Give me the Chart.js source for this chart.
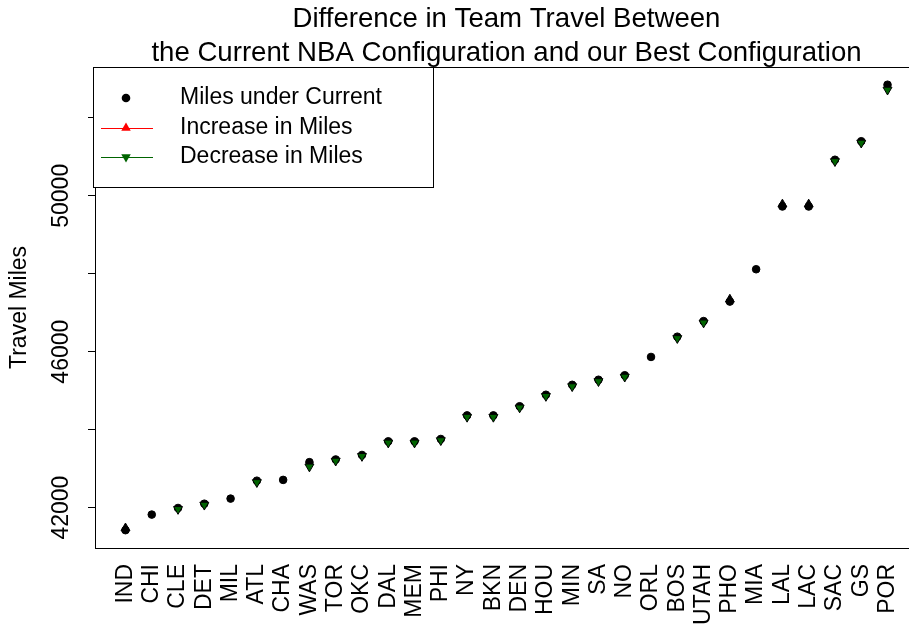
<!DOCTYPE html>
<html>
<head>
<meta charset="utf-8">
<title>Team Travel</title>
<script src="https://cdn.jsdelivr.net/npm/chart.js@4"></script>
<style>
  html, body { margin: 0; padding: 0; background: #fff; overflow: hidden; }
  #wrap { width: 1020px; height: 625px; }
</style>
</head>
<body>
<div id="wrap"><canvas id="travelChart" width="1020" height="625"></canvas></div>
<script>
// --- data ---
const teams = ['IND', 'CHI', 'CLE', 'DET', 'MIL', 'ATL', 'CHA', 'WAS', 'TOR', 'OKC',
  'DAL', 'MEM', 'PHI', 'NY', 'BKN', 'DEN', 'HOU', 'MIN', 'SA', 'NO',
  'ORL', 'BOS', 'UTAH', 'PHO', 'MIA', 'LAL', 'LAC', 'SAC', 'GS', 'POR'];

const milesCurrent = [41420, 41820, 41990, 42100, 42230, 42690, 42710, 43165, 43235, 43350,
  43700, 43700, 43760, 44365, 44365, 44600, 44895, 45150, 45280, 45395,
  45865, 46385, 46785, 47285, 48115, 49725, 49725, 50925, 51400, 52850];

// best configuration, split by direction of change (null = no marker)
const milesIncrease = [41470, null, null, null, null, null, null, null, null, null,
  null, null, null, null, null, null, null, null, null, null,
  null, null, null, 47340, null, 49780, 49780, null, null, null];

const milesDecrease = [null, null, 41960, 42070, null, 42650, null, 43050, 43200, 43320,
  43665, 43665, 43725, 44325, 44325, 44565, 44860, 45110, 45240, 45355,
  null, 46345, 46745, null, null, null, null, 50885, 51360, 52720];

const seriesNames = ['Miles under Current', 'Increase in Miles', 'Decrease in Miles'];
const titleLines = ['Difference in Team Travel Between', 'the Current NBA Configuration and our Best Configuration'];
const yTickValues = [42000, 44000, 46000, 48000, 50000, 52000];
const yTickLabels = ['42000', '', '46000', '', '50000', ''];

Chart.defaults.font.family = "'Liberation Sans', Arial, sans-serif";
Chart.defaults.color = '#000';

const toPoints = arr => arr.map((v, i) => ({ x: i + 1, y: v })).filter(p => p.y !== null);

// R-style 4% axis padding
const allValues = [...milesCurrent, ...milesIncrease, ...milesDecrease].filter(v => v !== null);
const yLo = Math.min(...allValues), yHi = Math.max(...allValues);
const yPad = (yHi - yLo) * 0.04;
const xPad = (teams.length - 1) * 0.04;

const RED = '#FF0000';
const GREEN = '#006400';

function triangle(ctx, x, y, r, down) {
  const s = down ? -1 : 1;
  ctx.beginPath();
  ctx.moveTo(x, y - s * r);
  ctx.lineTo(x + r * 0.866, y + s * r / 2);
  ctx.lineTo(x - r * 0.866, y + s * r / 2);
  ctx.closePath();
  ctx.fill();
}

const plotBox = {
  id: 'plotBox',
  beforeDatasetsDraw(chart) {
    const { ctx, chartArea: a } = chart;
    ctx.save();
    ctx.strokeStyle = '#000';
    ctx.lineWidth = 1;
    ctx.strokeRect(Math.round(a.left) + 0.5, Math.round(a.top) + 0.5,
      Math.round(a.right - a.left), Math.round(a.bottom - a.top));
    ctx.restore();
  }
};

// legend box in the top-left corner of the plot, like R's legend("topleft")
const insetLegend = {
  id: 'insetLegend',
  afterDraw(chart) {
    const { ctx, chartArea: a } = chart;
    const left = Math.round(a.left) - 2, top = Math.round(a.top);
    const w = 340, h = 120;
    ctx.save();
    ctx.fillStyle = '#fff';
    ctx.fillRect(left, top, w, h);
    ctx.strokeStyle = '#000';
    ctx.lineWidth = 1;
    ctx.strokeRect(left + 0.5, top + 0.5, w, h);

    const rowY = [top + 31, top + 61, top + 90];
    const mx = left + 33;
    // row 1: black dot
    ctx.fillStyle = '#000';
    ctx.beginPath();
    ctx.arc(mx, rowY[0], 4.3, 0, Math.PI * 2);
    ctx.fill();
    // rows 2, 3: line + triangle
    [[RED, false], [GREEN, true]].forEach(([col, down], k) => {
      const y = rowY[k + 1];
      ctx.strokeStyle = col;
      ctx.beginPath();
      ctx.moveTo(left + 8, y + 0.5);
      ctx.lineTo(left + 60, y + 0.5);
      ctx.stroke();
      ctx.fillStyle = col;
      triangle(ctx, mx, y, 5.5, down);
    });

    ctx.fillStyle = '#000';
    ctx.font = "23px 'Liberation Sans', Arial, sans-serif";
    ctx.textAlign = 'left';
    ctx.textBaseline = 'middle';
    seriesNames.forEach((name, k) => ctx.fillText(name, left + 87, rowY[k]));
    ctx.restore();
  }
};

new Chart(document.getElementById('travelChart'), {
  type: 'scatter',
  data: {
    datasets: [
      {
        label: seriesNames[2], data: toPoints(milesDecrease), order: 0,
        pointStyle: 'triangle', rotation: 180, pointRadius: 5.2,
        backgroundColor: GREEN, borderColor: '#000', borderWidth: 1
      },
      {
        label: seriesNames[0], data: toPoints(milesCurrent), order: 1,
        pointStyle: 'circle', pointRadius: 3.8,
        backgroundColor: '#000', borderColor: '#000', borderWidth: 1
      },
      {
        // sits under the dots; only its dark tip shows, as in the reference
        label: seriesNames[1], data: toPoints(milesIncrease), order: 2,
        pointStyle: 'triangle', rotation: 0, pointRadius: 5.2,
        backgroundColor: '#000', borderColor: '#000', borderWidth: 1
      }
    ]
  },
  options: {
    responsive: false,
    animation: false,
    events: [],
    layout: { padding: { left: 0, right: 102, top: 0, bottom: 0 } },
    plugins: {
      legend: { display: false },
      tooltip: { enabled: false },
      title: {
        display: true, text: titleLines, color: '#000', fullSize: false,
        font: { size: 27.6, weight: 'normal', lineHeight: 1.23 },
        padding: { top: 2, bottom: -3 }
      }
    },
    scales: {
      x: {
        type: 'linear',
        min: 1 - xPad, max: teams.length + xPad,
        afterBuildTicks: s => { s.ticks = teams.map((t, i) => ({ value: i + 1 })); },
        afterFit: s => { s.height = 77; },
        ticks: {
          color: '#000', font: { size: 23 }, autoSkip: false,
          minRotation: 90, maxRotation: 90, padding: 16,
          callback: (v, i) => teams[i]
        },
        grid: { display: false, drawTicks: false },
        border: { display: false }
      },
      y: {
        type: 'linear',
        min: yLo - yPad, max: yHi + yPad,
        afterBuildTicks: s => { s.ticks = yTickValues.map(v => ({ value: v })); },
        afterFit: s => { s.width = 95; },
        ticks: {
          color: '#000', font: { size: 23 },
          minRotation: 90, maxRotation: 90, crossAlign: 'center', padding: -6,
          callback: (v, i) => yTickLabels[i]
        },
        grid: { display: true, drawOnChartArea: false, drawTicks: true, tickLength: 7, tickColor: '#000', color: '#000' },
        border: { display: false },
        title: {
          display: true, text: 'Travel Miles', color: '#000',
          font: { size: 23, lineHeight: 1.2 }, padding: { top: 6, bottom: 0 }
        }
      }
    }
  },
  plugins: [plotBox, insetLegend]
});
</script>
</body>
</html>
